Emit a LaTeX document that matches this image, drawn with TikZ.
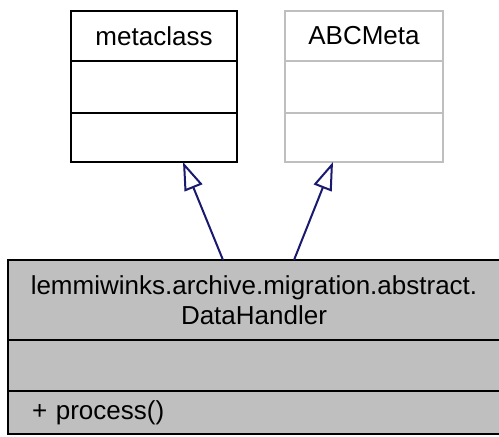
\documentclass[tikz,border=0pt]{standalone}
\usepackage{fontspec}
\setmainfont{Liberation Sans}
\usetikzlibrary{arrows.meta,calc}
\begin{document}
\begin{tikzpicture}[x=1pt,y=-1pt,
  part/.style={draw, line width=2pt, inner sep=0pt, outer sep=0pt, anchor=north west, font=\fontsize{26}{30}\selectfont},
  grayp/.style={part, draw=black!25},
  dhp/.style={part, fill=black!25, align=center},
  inherit/.style={draw={rgb,255:red,25;green,25;blue,112}, line width=2pt,
    -{Triangle[open,length=28pt,width=19pt,line width=2pt]}}]
\useasboundingbox (0,0) rectangle (499,437);
% metaclass
\node[part, minimum width=166pt, minimum height=50pt] (m1) at (71,11) {metaclass};
\node[part, minimum width=166pt, minimum height=52pt] (m2) at (m1.south west) {};
\node[part, minimum width=166pt, minimum height=49pt] (m3) at (m2.south west) {};
% ABCMeta
\node[grayp, minimum width=158pt, minimum height=50pt] (a1) at (285,11) {ABCMeta};
\node[grayp, minimum width=158pt, minimum height=52pt] (a2) at (a1.south west) {};
\node[grayp, minimum width=158pt, minimum height=49pt] (a3) at (a2.south west) {};
% DataHandler
\node[dhp, minimum width=492pt, minimum height=80pt] (d1) at (8,260) {lemmiwinks.archive.migration.abstract.\\DataHandler};
\node[dhp, minimum width=492pt, minimum height=51pt] (d2) at (d1.south west) {};
\node[dhp, minimum width=492pt, minimum height=43pt, text width=444pt, align=left] (d3) at (d2.south west) {+ process()};
% connectors
\coordinate (s1) at ($(d1.north west)+(215,0)$);
\coordinate (t1) at ($(m3.south west)+(112,0)$);
\coordinate (s2) at ($(d1.north west)+(286,0)$);
\coordinate (t2) at ($(a3.south west)+(48,0)$);
\draw[inherit] (s1) -- (t1);
\draw[inherit] (s2) -- (t2);
\end{tikzpicture}
\end{document}
